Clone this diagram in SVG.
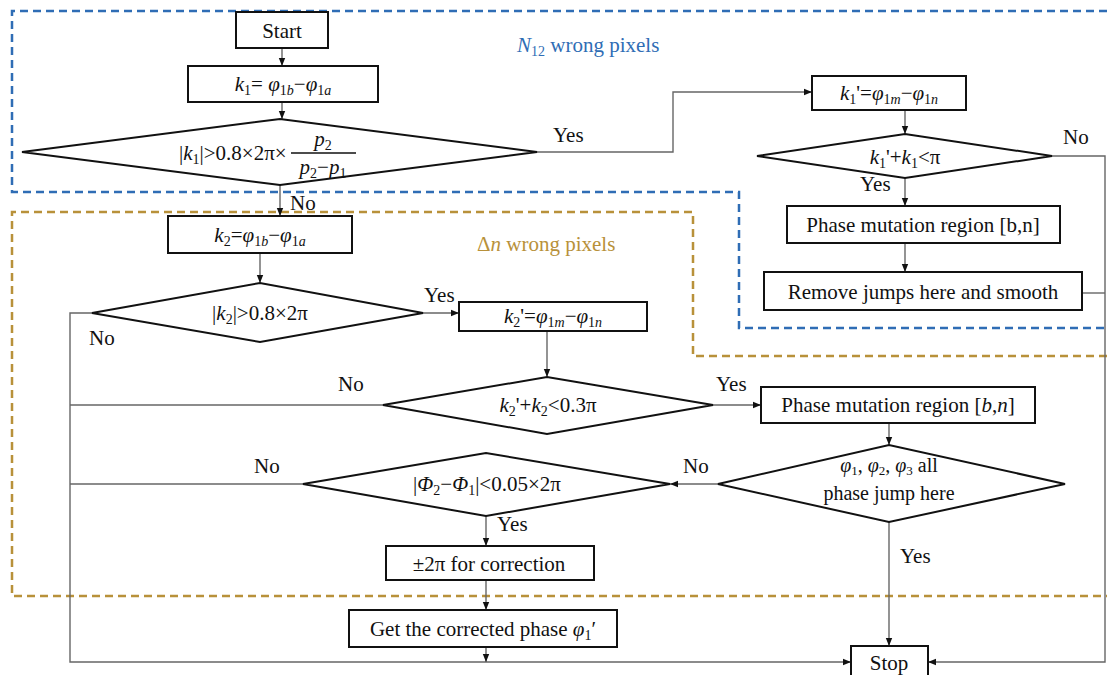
<svg xmlns="http://www.w3.org/2000/svg" width="1107" height="675" viewBox="0 0 1107 675" font-family="'Liberation Serif', 'Times New Roman', serif">
<style>
text{font-family:'Liberation Serif','Times New Roman',serif;font-size:21px;fill:#111}
.c{text-anchor:middle}
.i{font-style:italic}
.s{font-size:14px}
.box{fill:#fff;stroke:#111;stroke-width:2}
.con{fill:none;stroke:#666;stroke-width:1.4}
.blue{fill:none;stroke:#2f6db5;stroke-width:2.5;stroke-dasharray:8 5}
.gold{fill:none;stroke:#b8913a;stroke-width:2.5;stroke-dasharray:8 5}
</style>
<defs>
<marker id="ah" viewBox="0 0 10 10" refX="10" refY="5" markerWidth="8" markerHeight="8" markerUnits="userSpaceOnUse" orient="auto">
<path d="M0,1 L10,5 L0,9 z" fill="#111"/>
</marker>
</defs>
<rect width="1107" height="675" fill="#fff"/>

<g id="regions">
<path class="blue" d="M1107,11 L12,11 L12,192 L739,192 L739,328 L1107,328"/>
<path class="gold" d="M1107,356 L693,356 L693,212 L12,212 L12,596 L1107,596"/>
<text x="517" y="52" style="fill:#2f6db5"><tspan class="i">N</tspan><tspan class="s" dy="4">12</tspan><tspan dy="-4"> wrong pixels</tspan></text>
<text x="477" y="251" style="fill:#b8913a">Δ<tspan class="i">n</tspan> wrong pixels</text>
</g>

<g id="connectors">
<path class="con" d="M282,48 V66" marker-end="url(#ah)"/>
<path class="con" d="M282,102 V119" marker-end="url(#ah)"/>
<path class="con" d="M537,152 H673 V92 H812" marker-end="url(#ah)"/>
<path class="con" d="M905,110 V134" marker-end="url(#ah)"/>
<path class="con" d="M1052,156 H1105 V662 H928" marker-end="url(#ah)"/>
<path class="con" d="M905,178 V206" marker-end="url(#ah)"/>
<path class="con" d="M905,243 V272" marker-end="url(#ah)"/>
<path class="con" d="M1082,293 H1105"/>
<path class="con" d="M280,185 V216" marker-end="url(#ah)"/>
<path class="con" d="M260,253 V283" marker-end="url(#ah)"/>
<path class="con" d="M423,313 H459" marker-end="url(#ah)"/>
<path class="con" d="M92,313 H70 V662 H851" marker-end="url(#ah)"/>
<path class="con" d="M547,331 V377" marker-end="url(#ah)"/>
<path class="con" d="M383,405 H70"/>
<path class="con" d="M713,405 H761" marker-end="url(#ah)"/>
<path class="con" d="M889,423 V445" marker-end="url(#ah)"/>
<path class="con" d="M718,484 H670" marker-end="url(#ah)"/>
<path class="con" d="M303,484 H70"/>
<path class="con" d="M486,516 V546" marker-end="url(#ah)"/>
<path class="con" d="M486,580 V610" marker-end="url(#ah)"/>
<path class="con" d="M486,647 V662" marker-end="url(#ah)"/>
<path class="con" d="M889,522 V646" marker-end="url(#ah)"/>
<text x="553" y="142">Yes</text>
<text x="1063" y="144">No</text>
<text x="860" y="191">Yes</text>
<text x="290" y="210">No</text>
<text x="424" y="302">Yes</text>
<text x="89" y="345">No</text>
<text x="338" y="391">No</text>
<text x="716" y="391">Yes</text>
<text x="683" y="473">No</text>
<text x="254" y="473">No</text>
<text x="497" y="531">Yes</text>
<text x="900" y="563">Yes</text>
</g>

<g id="start">
<rect class="box" x="236" y="12" width="92" height="36"/>
<text class="c" x="282" y="38">Start</text>
</g>

<g id="k1">
<rect class="box" x="188" y="66" width="190" height="36"/>
<text class="c" x="283" y="91"><tspan class="i">k</tspan><tspan class="s" dy="4">1</tspan><tspan dy="-4">= </tspan><tspan class="i">φ</tspan><tspan class="s" dy="4">1<tspan class="i">b</tspan></tspan><tspan dy="-4">−</tspan><tspan class="i">φ</tspan><tspan class="s" dy="4">1<tspan class="i">a</tspan></tspan></text>
</g>

<g id="d1">
<polygon class="box" points="22,152 280,119 537,152 280,185"/>
<text x="179" y="160"><tspan>|</tspan><tspan class="i">k</tspan><tspan class="s" dy="4">1</tspan><tspan dy="-4">|&gt;0.8×2π×</tspan></text>
<line x1="291" y1="153" x2="356" y2="153" stroke="#111" stroke-width="1.3"/>
<text class="c" x="323" y="146"><tspan class="i">p</tspan><tspan class="s" dy="4">2</tspan></text>
<text class="c" x="323" y="174"><tspan class="i">p</tspan><tspan class="s" dy="4">2</tspan><tspan dy="-4">−</tspan><tspan class="i">p</tspan><tspan class="s" dy="4">1</tspan></text>
</g>

<g id="k1p">
<rect class="box" x="812" y="76" width="154" height="34"/>
<text class="c" x="889" y="100"><tspan class="i">k</tspan><tspan class="s" dy="4">1</tspan><tspan dy="-4">'=</tspan><tspan class="i">φ</tspan><tspan class="s" dy="4">1<tspan class="i">m</tspan></tspan><tspan dy="-4">−</tspan><tspan class="i">φ</tspan><tspan class="s" dy="4">1<tspan class="i">n</tspan></tspan></text>
</g>

<g id="d2">
<polygon class="box" points="757,156 905,134 1052,156 905,178"/>
<text class="c" x="905" y="164"><tspan class="i">k</tspan><tspan class="s" dy="4">1</tspan><tspan dy="-4">'+</tspan><tspan class="i">k</tspan><tspan class="s" dy="4">1</tspan><tspan dy="-4">&lt;π</tspan></text>
</g>

<g id="pmr1">
<rect class="box" x="787" y="206" width="273" height="37"/>
<text class="c" x="923" y="232">Phase mutation region [b,n]</text>
</g>

<g id="remove">
<rect class="box" x="764" y="272" width="318" height="38"/>
<text class="c" x="923" y="299">Remove jumps here and smooth</text>
</g>

<g id="k2">
<rect class="box" x="168" y="216" width="184" height="37"/>
<text class="c" x="260" y="242"><tspan class="i">k</tspan><tspan class="s" dy="4">2</tspan><tspan dy="-4">=</tspan><tspan class="i">φ</tspan><tspan class="s" dy="4">1<tspan class="i">b</tspan></tspan><tspan dy="-4">−</tspan><tspan class="i">φ</tspan><tspan class="s" dy="4">1<tspan class="i">a</tspan></tspan></text>
</g>

<g id="d3">
<polygon class="box" points="92,313 260,283 423,313 260,342"/>
<text class="c" x="260" y="320">|<tspan class="i">k</tspan><tspan class="s" dy="4">2</tspan><tspan dy="-4">|&gt;0.8×2π</tspan></text>
</g>

<g id="k2p">
<rect class="box" x="459" y="302" width="188" height="29"/>
<text class="c" x="553" y="323"><tspan class="i">k</tspan><tspan class="s" dy="4">2</tspan><tspan dy="-4">'=</tspan><tspan class="i">φ</tspan><tspan class="s" dy="4">1<tspan class="i">m</tspan></tspan><tspan dy="-4">−</tspan><tspan class="i">φ</tspan><tspan class="s" dy="4">1<tspan class="i">n</tspan></tspan></text>
</g>

<g id="d4">
<polygon class="box" points="383,405 547,377 713,405 547,434"/>
<text class="c" x="548" y="412"><tspan class="i">k</tspan><tspan class="s" dy="4">2</tspan><tspan dy="-4">'+</tspan><tspan class="i">k</tspan><tspan class="s" dy="4">2</tspan><tspan dy="-4">&lt;0.3π</tspan></text>
</g>

<g id="pmr2">
<rect class="box" x="761" y="387" width="274" height="36"/>
<text class="c" x="898" y="412">Phase mutation region [<tspan class="i">b</tspan>,<tspan class="i">n</tspan>]</text>
</g>

<g id="d5">
<polygon class="box" points="718,484 889,445 1065,484 889,522"/>
<text class="c" x="889" y="472" style="font-size:20px"><tspan class="i">φ</tspan><tspan class="s" dy="3" style="font-size:13px">1</tspan><tspan dy="-3">, </tspan><tspan class="i">φ</tspan><tspan class="s" dy="3" style="font-size:13px">2</tspan><tspan dy="-3">, </tspan><tspan class="i">φ</tspan><tspan class="s" dy="3" style="font-size:13px">3</tspan><tspan dy="-3"> all</tspan></text>
<text class="c" x="889" y="500" style="font-size:20px">phase jump here</text>
</g>

<g id="d6">
<polygon class="box" points="303,484 486,453 670,484 486,516"/>
<text class="c" x="487" y="491">|<tspan class="i">Φ</tspan><tspan class="s" dy="4">2</tspan><tspan dy="-4">−</tspan><tspan class="i">Φ</tspan><tspan class="s" dy="4">1</tspan><tspan dy="-4">|&lt;0.05×2π</tspan></text>
</g>

<g id="corr">
<rect class="box" x="386" y="546" width="208" height="34"/>
<text class="c" x="489" y="571">±2π for correction</text>
</g>

<g id="get">
<rect class="box" x="349" y="610" width="268" height="37"/>
<text class="c" x="483" y="636">Get the corrected phase <tspan class="i">φ</tspan><tspan class="s" dy="4">1</tspan><tspan dy="-4">′</tspan></text>
</g>

<g id="stop">
<rect class="box" x="851" y="646" width="77" height="40"/>
<text class="c" x="889" y="670">Stop</text>
</g>
</svg>
